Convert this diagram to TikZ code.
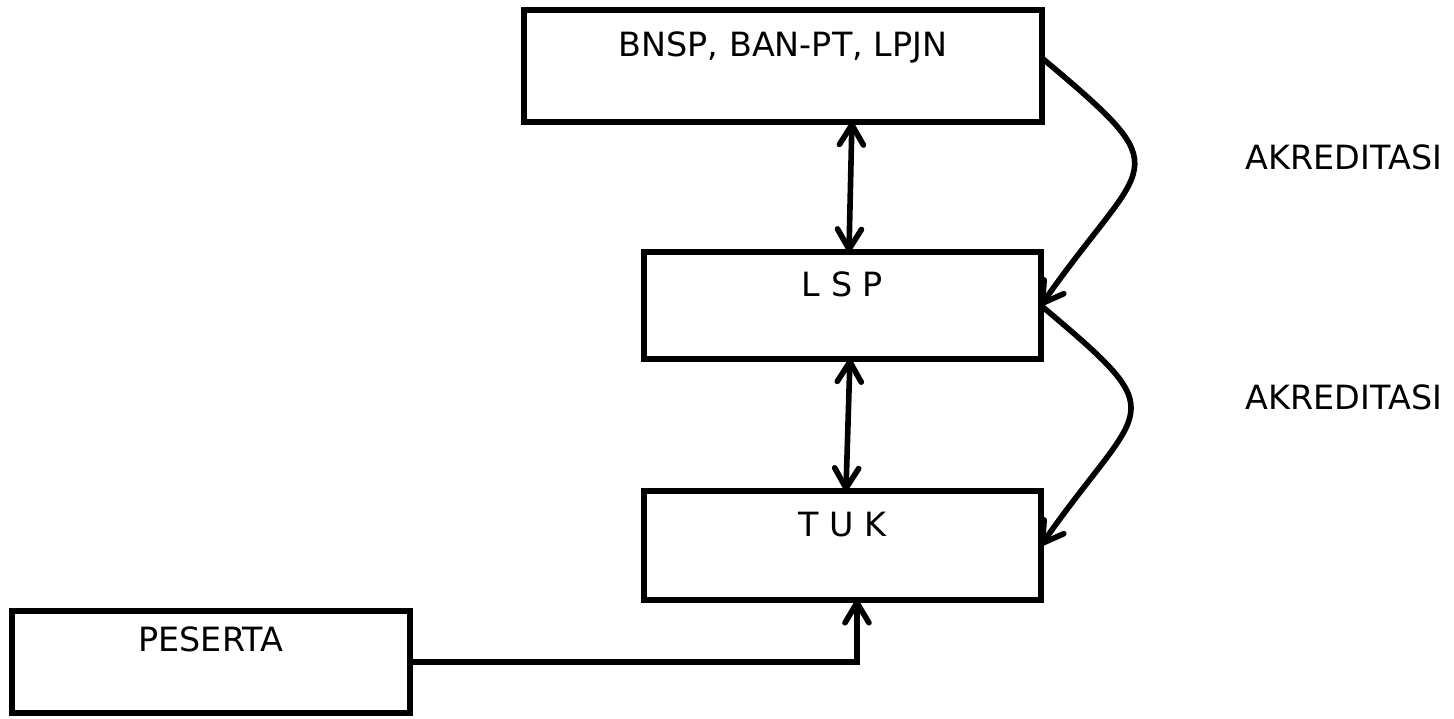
\documentclass[tikz,border=0pt]{standalone}
\usepackage{fontspec}
\setmainfont{DejaVu Sans}
\usetikzlibrary{arrows.meta}

\tikzset{
    box/.style={draw, line width=3.4pt, inner sep=0pt, outer sep=0pt, anchor=north west,
        font=\fontsize{19}{22}\selectfont},
    tag/.style={font=\fontsize{19}{22}\selectfont}
}

\begin{document}
\begin{tikzpicture}[x=0.02cm, y=-0.02cm, line width=3.2pt,
    >={Straight Barb[round,length=4mm,width=4.8mm]}]
    \useasboundingbox (0,0) rectangle (1454,719);
    \node[box, minimum width=10.36cm, text height=0.94cm, text depth=1.30cm] (bnsp) at (524,10) {BNSP, BAN-PT, LPJN};
    \node[box, minimum width=7.94cm, text height=0.90cm, text depth=1.24cm] (lsp) at (644,252) {L S P};
    \node[box, minimum width=7.94cm, text height=0.92cm, text depth=1.26cm] (tuk) at (644,491) {T U K};
    \node[box, minimum width=7.96cm, text height=0.82cm, text depth=1.22cm] (peserta) at (12,611) {PESERTA};
    \draw[<->] ([xshift=1.38cm]bnsp.south) -- ([xshift=0.13cm]lsp.north);
    \draw[<->] ([xshift=0.15cm]lsp.south) -- ([xshift=0.07cm]tuk.north);
    % akreditasi
    \draw[->] ([yshift=0.16cm]bnsp.east) to[out=-40, in=55, looseness=1.9] (lsp.east);
    \draw[->] (lsp.east) to[out=-40, in=55, looseness=1.9] (tuk.east);
    \node[tag] (akr1) at (1344,157) {AKREDITASI};
    \node[tag] (akr2) at (1344,397) {AKREDITASI};
    \draw[->] (peserta.east) -| ([xshift=0.29cm]tuk.south);
\end{tikzpicture}
\end{document}
